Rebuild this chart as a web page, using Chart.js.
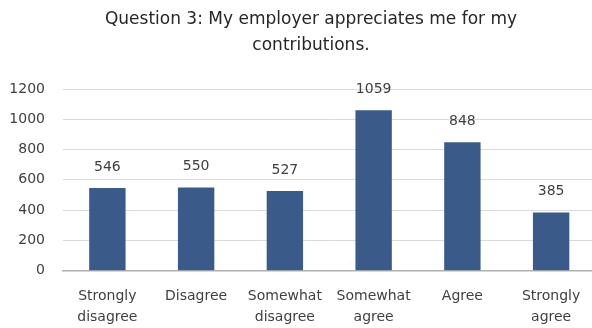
<!DOCTYPE html>
<html>
<head>
<meta charset="utf-8">
<script src="https://cdn.jsdelivr.net/npm/chart.js@4.4.1/dist/chart.umd.min.js"></script>
<style>
    html, body { margin: 0; padding: 0; background: #fff; overflow: hidden; }
    #wrap { position: relative; width: 622px; height: 328px; }
</style>
</head>
<body>
<div id="wrap"><canvas id="survey" width="622" height="328"></canvas></div>
<script>
(function () {
    'use strict';

    var titleLines = ['Question 3: My employer appreciates me for my', 'contributions.'];
    var categories = [
        ['Strongly', 'disagree'],
        'Disagree',
        ['Somewhat', 'disagree'],
        ['Somewhat', 'agree'],
        'Agree',
        ['Strongly', 'agree']
    ];
    var responses = [546, 550, 527, 1059, 848, 385];
    var yTicks = [0, 200, 400, 600, 800, 1000, 1200];

    var FONT = '"DejaVu Sans", sans-serif';
    var TEXT = '#404040';

    // numbers printed above each bar
    var valueLabels = {
        id: 'valueLabels',
        afterDatasetsDraw: function (chart) {
            var ctx = chart.ctx;
            var meta = chart.getDatasetMeta(0);
            ctx.save();
            ctx.font = '14px ' + FONT;
            ctx.fillStyle = TEXT;
            ctx.textAlign = 'center';
            ctx.textBaseline = 'middle';
            meta.data.forEach(function (bar, i) {
                ctx.fillText(String(responses[i]), bar.x, bar.y - 21);
            });
            ctx.restore();
        }
    };

    // let the y tick labels use the left padding instead of being clipped
    var widenYAxis = {
        id: 'widenYAxis',
        afterLayout: function (chart) {
            chart.scales.y.left = 0;
        }
    };

    new Chart(document.getElementById('survey'), {
        type: 'bar',
        data: {
            labels: categories,
            datasets: [
                {
                    label: 'Responses',
                    data: responses,
                    backgroundColor: '#3a5a8a',
                    categoryPercentage: 1,
                    barPercentage: 0.41
                }
            ]
        },
        options: {
            responsive: false,
            animation: false,
            layout: {padding: {left: 26.5, right: 26.5, top: 0, bottom: 0}},
            plugins: {
                legend: {display: false},
                tooltip: {enabled: false},
                title: {
                    display: true,
                    text: titleLines,
                    color: '#262626',
                    font: {family: FONT, size: 17, weight: 'normal', lineHeight: 26 / 17},
                    padding: {top: 7, bottom: 30}
                }
            },
            scales: {
                x: {
                    grid: {display: false, drawTicks: false},
                    border: {color: '#b0b0b0', width: 1.5},
                    ticks: {
                        color: TEXT,
                        padding: 15,
                        maxRotation: 0,
                        autoSkip: false,
                        font: {family: FONT, size: 14, lineHeight: 1.5}
                    },
                    afterFit: function (scale) { scale.height = 57.3; }
                },
                y: {
                    min: 0,
                    max: 1200,
                    afterBuildTicks: function (scale) {
                        scale.ticks = yTicks.map(function (v) { return {value: v}; });
                    },
                    grid: {color: '#dadada', lineWidth: 1, drawTicks: false},
                    border: {display: false},
                    ticks: {
                        color: TEXT,
                        padding: 18,
                        font: {family: FONT, size: 14},
                        callback: function (value) { return String(value); }
                    },
                    afterFit: function (scale) { scale.width = 36.5; }
                }
            }
        },
        plugins: [valueLabels, widenYAxis]
    });
})();
</script>
</body>
</html>
